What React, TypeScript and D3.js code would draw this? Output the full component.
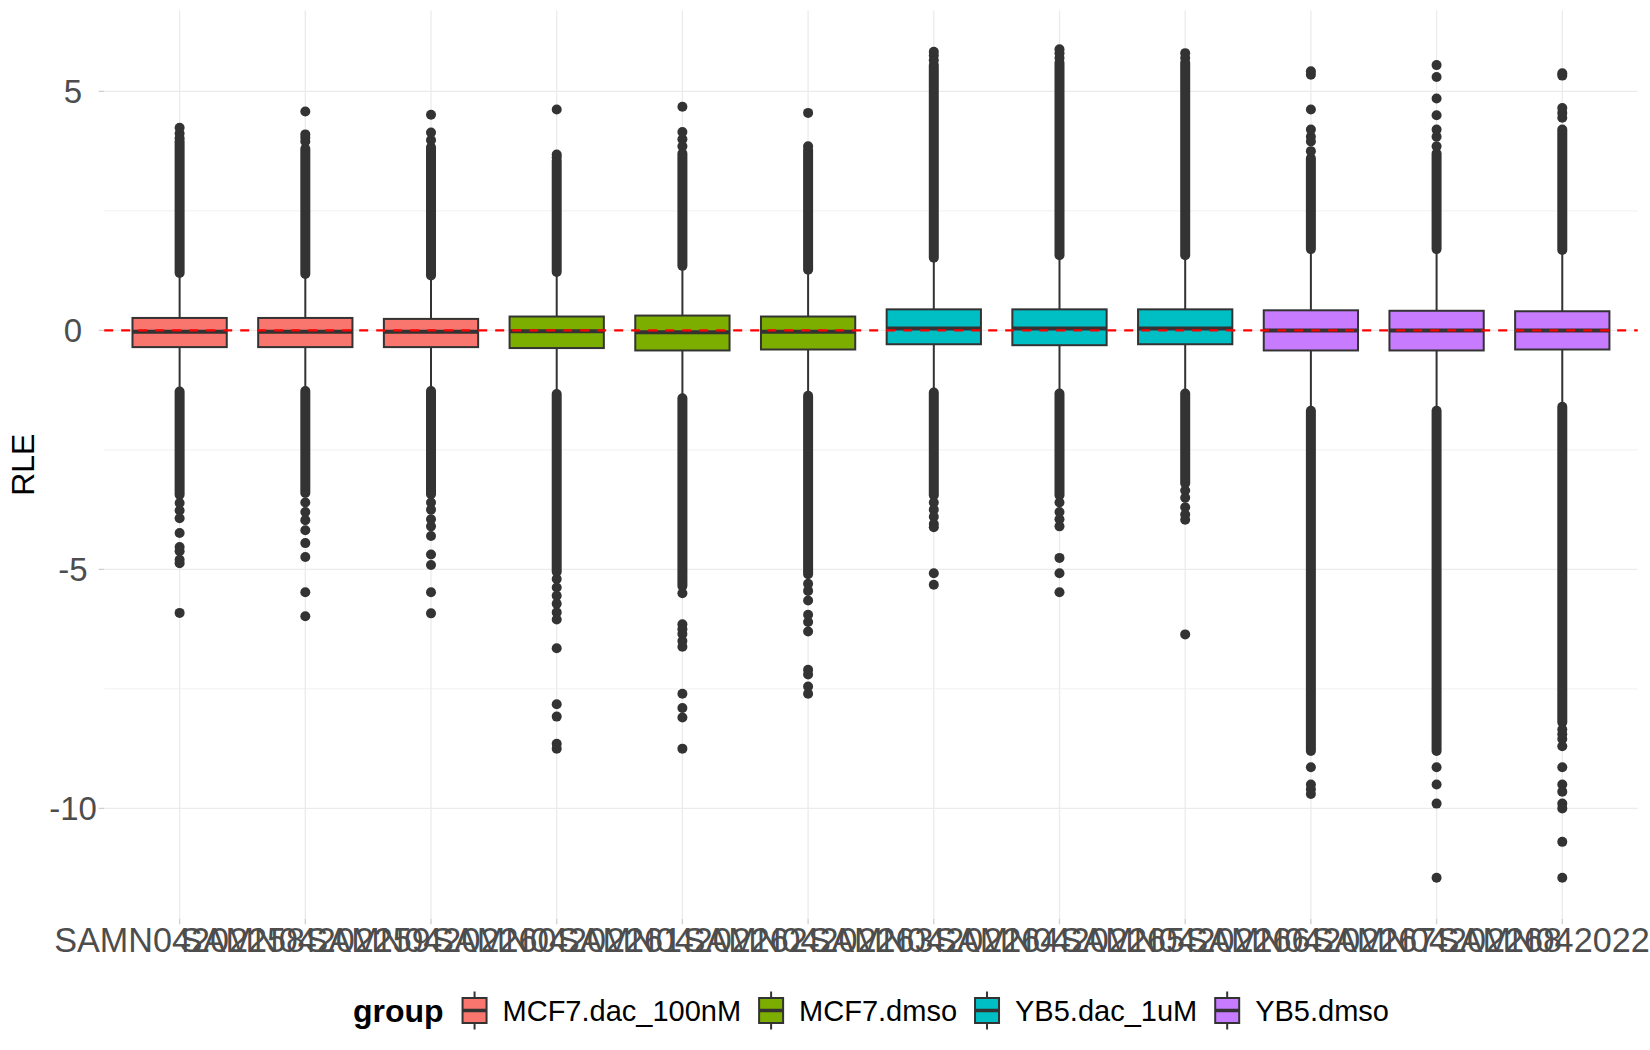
import React, { useMemo } from "react";
import * as d3 from "d3";

// ---------------- data ----------------
const samples = [
  "SAMN04202258", "SAMN04202259", "SAMN04202260", "SAMN04202261",
  "SAMN04202262", "SAMN04202263", "SAMN04202264", "SAMN04202265",
  "SAMN04202266", "SAMN04202267", "SAMN04202268", "SAMN04202269",
];
const sampleGroups = [
  "MCF7.dac_100nM", "MCF7.dac_100nM", "MCF7.dac_100nM",
  "MCF7.dmso", "MCF7.dmso", "MCF7.dmso",
  "YB5.dac_1uM", "YB5.dac_1uM", "YB5.dac_1uM",
  "YB5.dmso", "YB5.dmso", "YB5.dmso",
];
const groups = ["MCF7.dac_100nM", "MCF7.dmso", "YB5.dac_1uM", "YB5.dmso"];
const groupColors = ["#F8766D", "#7CAE00", "#00BFC4", "#C77CFF"];

const q1 = [-0.35, -0.35, -0.35, -0.37, -0.42, -0.4, -0.29, -0.31, -0.29, -0.42, -0.42, -0.4];
const medians = [-0.03, -0.03, -0.03, -0.02, -0.04, -0.03, 0.04, 0.04, 0.04, 0.0, 0.0, 0.0];
const q3 = [0.26, 0.26, 0.24, 0.29, 0.31, 0.29, 0.44, 0.44, 0.44, 0.42, 0.41, 0.4];
const whiskerLow = [-1.2, -1.2, -1.2, -1.28, -1.35, -1.3, -1.23, -1.25, -1.25, -1.6, -1.6, -1.52];
const whiskerHigh = [1.12, 1.1, 1.08, 1.15, 1.28, 1.2, 1.45, 1.5, 1.5, 1.63, 1.62, 1.6];

// stretches where outliers are packed so tightly they merge into a column
const denseUpper: [number, number][] = [
  [1.2, 3.95], [1.18, 3.8], [1.15, 3.83], [1.22, 3.55], [1.35, 3.7], [1.27, 3.78],
  [1.52, 5.55], [1.57, 5.6], [1.57, 5.6], [1.7, 3.6], [1.7, 3.7], [1.68, 4.2],
];
const denseLower: [number, number][] = [
  [-3.44, -1.28], [-3.4, -1.27], [-3.43, -1.27], [-5.05, -1.33], [-5.35, -1.42], [-5.1, -1.37],
  [-3.45, -1.3], [-3.45, -1.32], [-3.2, -1.32], [-8.8, -1.68], [-8.8, -1.68], [-8.2, -1.6],
];
// isolated outliers
const outliers: number[][] = [
  [4.02, 4.12, 4.24, -3.61, -3.77, -3.93, -4.24, -4.53, -4.62, -4.8, -4.87, -5.91],
  [3.95, 4.03, 4.1, 4.58, -3.6, -3.8, -3.97, -4.18, -4.45, -4.74, -5.48, -5.98],
  [3.98, 4.14, 4.51, -3.6, -3.75, -3.95, -4.1, -4.3, -4.69, -4.91, -5.48, -5.92],
  [3.62, 3.68, 4.62, -5.2, -5.38, -5.55, -5.72, -5.9, -6.05, -6.65, -7.82, -8.08, -8.65, -8.75],
  [3.85, 4.0, 4.15, 4.68, -5.5, -6.15, -6.25, -6.35, -6.5, -6.62, -7.6, -7.9, -8.1, -8.75],
  [3.85, 4.55, -5.3, -5.45, -5.65, -5.95, -6.1, -6.3, -7.1, -7.2, -7.45, -7.6],
  [5.65, 5.75, 5.83, -3.6, -3.75, -3.9, -4.05, -4.12, -5.08, -5.32],
  [5.7, 5.8, 5.88, -3.6, -3.8, -3.95, -4.1, -4.76, -5.08, -5.48],
  [5.7, 5.8, -3.35, -3.5, -3.7, -3.85, -3.96, -6.36],
  [3.75, 3.95, 4.05, 4.2, 4.62, 5.35, 5.42, -9.14, -9.5, -9.6, -9.7],
  [3.85, 4.05, 4.2, 4.5, 4.85, 5.3, 5.55, -9.14, -9.5, -9.9, -11.45],
  [4.45, 4.55, 4.65, 5.33, 5.38, -8.35, -8.45, -8.55, -8.7, -9.14, -9.5, -9.65, -9.9, -10.0, -10.7, -11.45],
];

const yMajorTicks = [-10, -5, 0, 5];
const yMinorTicks = [-7.5, -2.5, 2.5];
const yDomain: [number, number] = [-12.31, 6.69];
const refLine = 0;
const yTitle = "RLE";
const legendTitle = "group";

// ---------------- layout ----------------
const W = 1650;
const H = 1050;
const panel = { left: 104.2, right: 1637.7, top: 10.6, bottom: 918.8 };
const FONT = "'Liberation Sans', Arial, Helvetica, sans-serif";
const ink = "#333333";
const gridCol = "#EBEBEB";
const pointR = 5;

function measure(text: string, font: string): number {
  const c = document.createElement("canvas");
  const ctx = c.getContext("2d");
  if (!ctx) return text.length * 15;
  ctx.font = font;
  return ctx.measureText(text).width;
}

export default function App() {
  const x = d3.scalePoint<string>().domain(samples).range([panel.left, panel.right]).padding(0.6);
  const y = d3.scaleLinear().domain(yDomain).range([panel.bottom, panel.top]);
  const step = x.step();
  const boxW = step * 0.75;
  const color = d3.scaleOrdinal<string, string>().domain(groups).range(groupColors);

  const legend = useMemo(() => {
    const titleFont = `bold 32px ${FONT}`;
    const textFont = `29px ${FONT}`;
    const titleW = measure(legendTitle, titleFont);
    const keyW = 24;
    const gapTitle = 19;
    const gapKeyText = 16;
    const gapItem = 18;
    const items = groups.map((g) => ({ g, w: measure(g, textFont) }));
    let total = titleW + gapTitle;
    items.forEach((it, i) => {
      total += keyW + gapKeyText + it.w + (i < items.length - 1 ? gapItem : 0);
    });
    const cx = (panel.left + panel.right) / 2;
    let cur = cx - total / 2;
    const titleX = cur;
    cur += titleW + gapTitle;
    const placed = items.map((it) => {
      const kx = cur;
      const tx = kx + keyW + gapKeyText;
      cur = tx + it.w + gapItem;
      return { g: it.g, kx, tx };
    });
    return { titleX, placed, keyW };
  }, []);

  const legendCY = 1010.5;

  return (
    <svg
      width={W}
      height={H}
      style={{ position: "fixed", left: 0, top: 0, background: "#fff" }}
      fontFamily={FONT}
    >
      <rect x={0} y={0} width={W} height={H} fill="#fff" />
      {/* grid */}
      {yMinorTicks.map((t) => (
        <line key={"mi" + t} x1={panel.left} x2={panel.right} y1={y(t)} y2={y(t)} stroke={gridCol} strokeWidth={0.7} />
      ))}
      {yMajorTicks.map((t) => (
        <line key={"ma" + t} x1={panel.left} x2={panel.right} y1={y(t)} y2={y(t)} stroke={gridCol} strokeWidth={1.3} />
      ))}
      {samples.map((s) => (
        <line key={"vg" + s} x1={x(s)} x2={x(s)} y1={panel.top} y2={panel.bottom} stroke={gridCol} strokeWidth={1.3} />
      ))}
      {/* ticks */}
      {yMajorTicks.map((t) => (
        <line key={"yt" + t} x1={panel.left - 5.5} x2={panel.left} y1={y(t)} y2={y(t)} stroke="#CFCFCF" strokeWidth={1.3} />
      ))}
      {samples.map((s) => (
        <line key={"xt" + s} x1={x(s)} x2={x(s)} y1={panel.bottom} y2={panel.bottom + 5.5} stroke="#CFCFCF" strokeWidth={1.3} />
      ))}

      {/* boxplots */}
      {samples.map((s, i) => {
        const cx = x(s) as number;
        const fill = color(sampleGroups[i]);
        return (
          <g key={"bx" + s}>
            <line x1={cx} x2={cx} y1={y(q3[i])} y2={y(whiskerHigh[i])} stroke={ink} strokeWidth={2} />
            <line x1={cx} x2={cx} y1={y(q1[i])} y2={y(whiskerLow[i])} stroke={ink} strokeWidth={2} />
            <rect
              x={cx - boxW / 2}
              y={y(q3[i])}
              width={boxW}
              height={y(q1[i]) - y(q3[i])}
              fill={fill}
              stroke={ink}
              strokeWidth={2}
            />
            <line x1={cx - boxW / 2} x2={cx + boxW / 2} y1={y(medians[i])} y2={y(medians[i])} stroke={ink} strokeWidth={4} />
            {[denseUpper[i], denseLower[i]].map((r, k) => (
              <line
                key={"dr" + k}
                x1={cx}
                x2={cx}
                y1={y(r[0])}
                y2={y(r[1])}
                stroke={ink}
                strokeWidth={pointR * 2}
                strokeLinecap="round"
              />
            ))}
            {outliers[i].map((v, k) => (
              <circle key={"o" + k} cx={cx} cy={y(v)} r={pointR} fill={ink} />
            ))}
          </g>
        );
      })}

      {/* reference line */}
      <line
        x1={panel.left}
        x2={panel.right}
        y1={y(refLine)}
        y2={y(refLine)}
        stroke="#FF0000"
        strokeWidth={2.2}
        strokeDasharray="9,8"
      />

      {/* y axis labels */}
      {yMajorTicks.map((t) => (
        <text key={"yl" + t} x={73} y={y(t) + 11.5} textAnchor="middle" fontSize={33} fill="#4D4D4D">
          {t}
        </text>
      ))}
      <text
        transform={`translate(${34},${(panel.top + panel.bottom) / 2}) rotate(-90)`}
        textAnchor="middle"
        fontSize={32}
        fill="#000"
      >
        {yTitle}
      </text>

      {/* x axis labels */}
      {samples.map((s) => (
        <text key={"xl" + s} x={x(s)} y={952} textAnchor="middle" fontSize={34.2} fill="#4D4D4D">
          {s}
        </text>
      ))}

      {/* legend */}
      <text x={legend.titleX} y={legendCY + 11} fontSize={32} fontWeight="bold" fill="#000">
        {legendTitle}
      </text>
      {legend.placed.map((it, i) => {
        const kcx = it.kx + legend.keyW / 2;
        return (
          <g key={"lg" + it.g}>
            <line x1={kcx} x2={kcx} y1={legendCY - 19} y2={legendCY + 19} stroke={ink} strokeWidth={2} />
            <rect
              x={it.kx}
              y={legendCY - 12.5}
              width={legend.keyW}
              height={25}
              fill={groupColors[i]}
              stroke={ink}
              strokeWidth={2}
            />
            <line x1={it.kx} x2={it.kx + legend.keyW} y1={legendCY} y2={legendCY} stroke={ink} strokeWidth={3.5} />
            <text x={it.tx} y={legendCY + 10.5} fontSize={29} fill="#000">
              {it.g}
            </text>
          </g>
        );
      })}
    </svg>
  );
}
